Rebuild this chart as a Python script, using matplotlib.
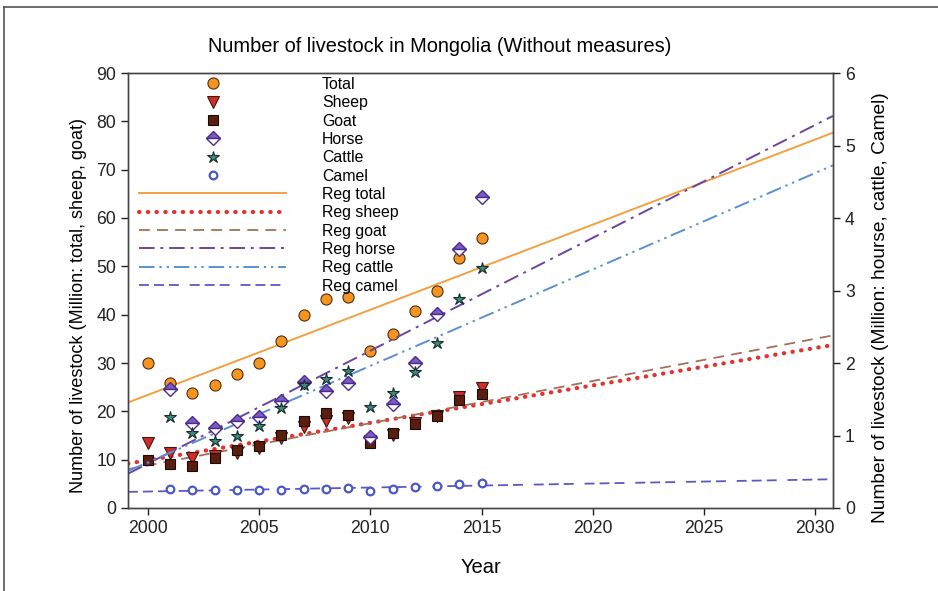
import numpy as np
import matplotlib
matplotlib.use('Agg')
import matplotlib.pyplot as plt
from matplotlib.lines import Line2D

plt.rcParams['font.family'] = ['Liberation Sans', 'DejaVu Sans']

# datos (millones de cabezas)
anios = np.arange(2000, 2016)
total = [29.9, 25.9, 23.7, 25.4, 27.7, 30.1, 34.5, 40.0, 43.2, 43.7, 32.5, 36.1, 40.7, 45.0, 51.7, 55.8]
ovejas = [13.4, 11.4, 10.3, 10.8, 11.4, 12.4, 14.4, 16.8, 18.0, 18.7, 13.9, 15.1, 17.5, 19.1, 23.0, 24.8]
cabras = [9.9, 9.2, 8.7, 10.3, 11.9, 12.8, 15.1, 18.0, 19.7, 19.2, 13.4, 15.5, 17.4, 19.0, 22.3, 23.5]

anios2 = np.arange(2001, 2016)
caballos = [1.64, 1.17, 1.10, 1.20, 1.26, 1.47, 1.74, 1.62, 1.72, 0.98, 1.44, 2.00, 2.68, 3.57, 4.29]
vacas = [1.26, 1.04, 0.93, 0.99, 1.13, 1.38, 1.70, 1.78, 1.89, 1.39, 1.59, 1.88, 2.27, 2.88, 3.31]
camellos = [0.26, 0.25, 0.25, 0.25, 0.25, 0.25, 0.26, 0.26, 0.27, 0.24, 0.26, 0.29, 0.30, 0.33, 0.35]

xlim = (1999.1, 2030.8)
xreg = np.array(xlim)

fig = plt.figure(figsize=(9.38, 5.91), dpi=100)
ax = fig.add_axes([128/938, 83/591, 705/938, 435/591])
ax2 = ax.twinx()

def regresion(x, y):
    p = np.polyfit(x, y, 1)
    return np.polyval(p, xreg)

# lineas de regresion
l_tot, = ax.plot(xreg, regresion(anios, total), color='#f2a040', lw=1.4, label='Reg total')
l_ov, = ax.plot(xreg, regresion(anios, ovejas), color='#e8302a', lw=3, linestyle=(0, (0.1, 2.0)),
                dash_capstyle='round', label='Reg sheep')
l_ca, = ax.plot(xreg, regresion(anios, cabras), color='#a36f5c', lw=1.3, linestyle=(0, (6, 4)), label='Reg goat')
l_cb, = ax2.plot(xreg, regresion(anios2, caballos), color='#6a45a0', lw=1.4,
                 linestyle=(0, (8, 3, 1.5, 3)), label='Reg horse')
l_va, = ax2.plot(xreg, regresion(anios2, vacas), color='#5b8fd0', lw=1.4,
                 linestyle=(0, (8, 2.5, 1.2, 2.5, 1.2, 2.5)), label='Reg cattle')
l_cm, = ax2.plot(xreg, regresion(anios2, camellos), color='#5a5ac0', lw=1.3,
                 linestyle=(0, (5.5, 2.8, 5.5, 2.8, 5.5, 6)), label='Reg camel')

# puntos
p_tot, = ax.plot(anios, total, 'o', ms=8, mfc='#f7941d', mec='#4a3018', mew=0.8, label='Total', zorder=5)
p_ov, = ax.plot(anios, ovejas, 'v', ms=8, mfc='#d42a2a', mec='#3a1a10', mew=0.8, label='Sheep', zorder=5)
p_ca, = ax.plot(anios, cabras, 's', ms=7.5, mfc='#5a1e0e', mec='#1a0a05', mew=0.8, label='Goat', zorder=5)
p_cb, = ax2.plot(anios2, caballos, 'D', ms=7, fillstyle='top', mfc='#7b5cc4', mfcalt='white',
                 mec='#4b2c8f', mew=1, label='Horse', zorder=5)
p_va, = ax2.plot(anios2, vacas, '*', ms=9, mfc='#3a8c7c', mec='#1a2a2a', mew=0.8, label='Cattle', zorder=5)
p_cm, = ax2.plot(anios2, camellos, 'o', ms=5.5, mfc='white', mec='#4a57c8', mew=1.6, label='Camel', zorder=5)

ax.set_xlim(*xlim)
ax.set_ylim(0, 90)
ax2.set_ylim(0, 6)
ax.set_xticks(range(2000, 2031, 5))
ax.set_yticks(range(0, 91, 10))
ax2.set_yticks(range(0, 7))

for a in (ax, ax2):
    a.tick_params(direction='out', length=5, width=1, labelsize=12.7, colors='#222222')
    for s in a.spines.values():
        s.set_color('#444444')
        s.set_linewidth(1)

ax.set_xlabel('Year', fontsize=14.5, labelpad=15)
ax.set_ylabel('Number of livestock (Million: total, sheep, goat)', fontsize=13)
ax2.set_ylabel('Number of livestock (Million: hourse, cattle, Camel)', fontsize=13.8)
ax.yaxis.set_label_coords(-0.058, 0.465)
ax2.yaxis.set_label_coords(1.055, 0.46)

fig.text(440/938, 1 - 47/591, 'Number of livestock in Mongolia (Without measures)',
         ha='center', va='center', fontsize=14.4)

manejadores = [p_tot, p_ov, p_ca, p_cb, p_va, p_cm, l_tot, l_ov, l_ca, l_cb, l_va, l_cm]
ax2.legend(handles=manejadores, loc='upper left', bbox_to_anchor=(139/938, 1 - 77/591),
           bbox_transform=fig.transFigure, frameon=False, fontsize=11.4, numpoints=1,
           handlelength=9.3, handletextpad=2.25, labelspacing=0.21, borderpad=0, borderaxespad=0)

# marco parcial de la figura
fig.add_artist(Line2D([4/938, 1], [1 - 7/591, 1 - 7/591], color='#555555', lw=1.2))
fig.add_artist(Line2D([4/938, 4/938], [0, 1 - 7/591], color='#555555', lw=1.2))

fig.savefig('out.png', dpi=100)
